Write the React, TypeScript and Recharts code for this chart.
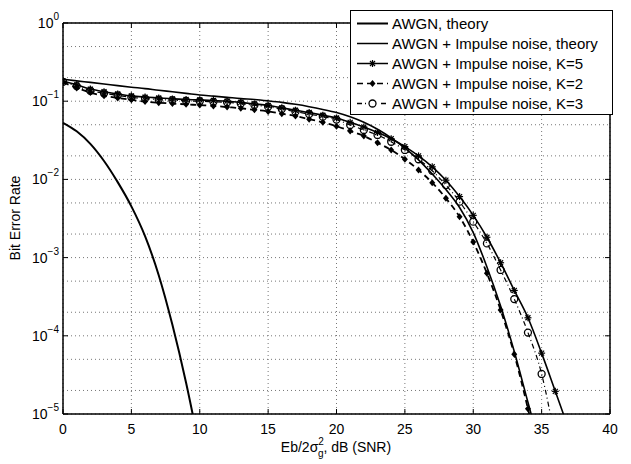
import { CartesianGrid, Line, LineChart, ReferenceLine, XAxis, YAxis } from "recharts";

const FONT = '"Liberation Sans", Arial, Helvetica, sans-serif';

const snrTicks = [0, 5, 10, 15, 20, 25, 30, 35, 40];
const berTicks = [1e-5, 1e-4, 1e-3, 1e-2, 1e-1, 1];

const snrAwgn = [0, 1, 2, 3, 4, 5, 6, 7, 8, 9, 10];
const berAwgn = [0.053, 0.0412, 0.0285, 0.0172, 0.00923, 0.00452, 0.00188, 5.96e-4, 1.38e-4, 2.51e-5, 3.55e-6];

const snrImpulse = [
  0, 1, 2, 3, 4, 5, 6, 7, 8, 9, 10, 11, 12, 13, 14, 15, 16, 17, 18, 19, 20, 21, 22, 23, 24, 25, 26, 27, 28,
  29, 30, 31, 32, 33, 34, 35, 36, 37,
];
const berTheory = [
  0.191, 0.182, 0.174, 0.166, 0.158, 0.151, 0.145, 0.138, 0.132, 0.126, 0.12, 0.116, 0.112, 0.108, 0.105,
  0.101, 0.0966, 0.0912, 0.0851, 0.0785, 0.0716, 0.0631, 0.0537, 0.0437, 0.0339, 0.0251, 0.0178, 0.0117,
  0.00741, 0.00437, 0.00209, 7.6e-4, 2.4e-4, 6.3e-5, 1.41e-5, 3.2e-6,
];
const berK5 = [
  0.18, 0.162, 0.143, 0.132, 0.124, 0.117, 0.113, 0.11, 0.107, 0.105, 0.104, 0.102, 0.1, 0.0966, 0.0923,
  0.0881, 0.0822, 0.0767, 0.0716, 0.0661, 0.061, 0.0537, 0.0468, 0.0398, 0.0331, 0.0263, 0.02, 0.0145,
  0.00977, 0.00603, 0.00347, 0.00182, 8.6e-4, 3.8e-4, 1.7e-4, 6.0e-5, 1.95e-5, 6.3e-6,
];
const berK2 = [
  0.174, 0.148, 0.129, 0.117, 0.11, 0.104, 0.0989, 0.0955, 0.0933, 0.0912, 0.0891, 0.0871, 0.0841, 0.0813,
  0.0776, 0.0741, 0.0692, 0.0646, 0.0589, 0.0537, 0.0479, 0.0416, 0.0359, 0.0294, 0.0238, 0.0181, 0.0132,
  0.00908, 0.00573, 0.00333, 0.00158, 6.3e-4, 2.14e-4, 5.8e-5, 1.17e-5, 2.0e-6,
];
const berK3 = [
  0.177, 0.156, 0.136, 0.126, 0.119, 0.112, 0.108, 0.105, 0.103, 0.101, 0.0998, 0.0982, 0.0966, 0.0933,
  0.0891, 0.0851, 0.0794, 0.0735, 0.0685, 0.0634, 0.0582, 0.0497, 0.0429, 0.037, 0.0303, 0.0238, 0.0181,
  0.0129, 0.00847, 0.00519, 0.00288, 0.00152, 6.95e-4, 2.95e-4, 1.1e-4, 3.25e-5, 4.6e-6,
];

const legendLabels = [
  "AWGN, theory",
  "AWGN + Impulse noise, theory",
  "AWGN + Impulse noise, K=5",
  "AWGN + Impulse noise, K=2",
  "AWGN + Impulse noise, K=3",
];

const toPoints = (xs: number[], ys: number[]) => ys.map((y, i) => ({ x: xs[i], y }));

// dotted minor grid, like matlab's "grid on; grid minor"
const gridY: number[] = [];
for (let d = -5; d < 0; d++) {
  for (let k = 1; k < 10; k++) gridY.push(k * Math.pow(10, d));
}
gridY.push(1);

function Star({ cx, cy }: { cx: number; cy: number }) {
  const r = 3.5;
  const q = 2.5;
  return (
    <g stroke="#000" strokeWidth={1.2}>
      <line x1={cx - r} y1={cy} x2={cx + r} y2={cy} />
      <line x1={cx} y1={cy - r} x2={cx} y2={cy + r} />
      <line x1={cx - q} y1={cy - q} x2={cx + q} y2={cy + q} />
      <line x1={cx - q} y1={cy + q} x2={cx + q} y2={cy - q} />
    </g>
  );
}

function Diamond({ cx, cy }: { cx: number; cy: number }) {
  return <path d={`M${cx},${cy - 3.5}L${cx + 3},${cy}L${cx},${cy + 3.5}L${cx - 3},${cy}Z`} fill="#000" />;
}

function Ring({ cx, cy }: { cx: number; cy: number }) {
  return <circle cx={cx} cy={cy} r={3.5} fill="none" stroke="#000" strokeWidth={1.3} />;
}

const dotFn = (Mark: any) => (p: any) =>
  p.cx == null || p.cy == null ? <g key={p.index} /> : <Mark key={p.index} cx={p.cx} cy={p.cy} />;

function YTick({ y, payload }: any) {
  const exp = Math.round(Math.log10(payload.value));
  const sup = exp < 0 ? `\u2212${-exp}` : `${exp}`;
  return (
    <g>
      <line x1={63} x2={68} y1={y} y2={y} stroke="#000" />
      <line x1={610} x2={605} y1={y} y2={y} stroke="#000" />
      <text x={59} y={y + 5} textAnchor="end" fontSize={14} fontFamily={FONT} fill="#000">
        10
        <tspan dy={-8} fontSize={10}>
          {sup}
        </tspan>
      </text>
    </g>
  );
}

function XTick({ x, payload }: any) {
  return (
    <g>
      <line x1={x} x2={x} y1={414} y2={409} stroke="#000" />
      <line x1={x} x2={x} y1={23} y2={28} stroke="#000" />
      <text x={x} y={434} textAnchor="middle" fontSize={14} fontFamily={FONT} fill="#000">
        {payload.value}
      </text>
    </g>
  );
}

function Legend() {
  const rows = [0, 1, 2, 3, 4];
  return (
    <svg
      width={264}
      height={106}
      style={{ position: "absolute", left: 350, top: 10, fontFamily: FONT }}
    >
      <rect x={0.5} y={0.5} width={262} height={104} fill="#fff" stroke="#000" strokeWidth={1} />
      {rows.map((i) => {
        const cy = 13.5 + i * 20;
        const dash = i === 3 ? "6 4" : i === 4 ? "5 3 1 3" : undefined;
        return (
          <g key={i}>
            <line
              x1={7}
              x2={38}
              y1={cy}
              y2={cy}
              stroke="#000"
              strokeWidth={i === 0 ? 2 : 1.5}
              strokeDasharray={dash}
            />
            {i === 2 && <Star cx={22.5} cy={cy} />}
            {i === 3 && <Diamond cx={22.5} cy={cy} />}
            {i === 4 && (
              <>
                <rect x={17} y={cy - 4.5} width={11} height={9} fill="#fff" />
                <Ring cx={22.5} cy={cy} />
              </>
            )}
            <text x={42} y={cy + 5} fontSize={15} fill="#000">
              {legendLabels[i]}
            </text>
          </g>
        );
      })}
    </svg>
  );
}

export default function App() {
  return (
    <div style={{ position: "absolute", left: 0, top: 0, width: 631, height: 464, background: "#fff" }}>
      <LineChart width={631} height={464} margin={{ top: 23, right: 21, left: 0, bottom: 0 }}>
        <CartesianGrid
          stroke="#777"
          strokeDasharray="1 3"
          horizontalValues={gridY}
          verticalValues={snrTicks}
        />
        <XAxis
          dataKey="x"
          type="number"
          domain={[0, 40]}
          ticks={snrTicks}
          allowDataOverflow
          height={50}
          tickLine={false}
          axisLine={{ stroke: "#000", strokeWidth: 1.5 }}
          tick={<XTick />}
        />
        <YAxis
          dataKey="y"
          scale="log"
          domain={[1e-5, 1]}
          ticks={berTicks}
          allowDataOverflow
          width={63}
          tickLine={false}
          axisLine={{ stroke: "#000", strokeWidth: 1.5 }}
          tick={<YTick />}
        />
        <ReferenceLine y={1} stroke="#000" strokeWidth={1.5} />
        <ReferenceLine x={40} stroke="#000" strokeWidth={1.5} />
        <Line
          data={toPoints(snrAwgn, berAwgn)}
          dataKey="y"
          type="monotone"
          stroke="#000"
          strokeWidth={2}
          dot={false}
          isAnimationActive={false}
        />
        <Line
          data={toPoints(snrImpulse, berTheory)}
          dataKey="y"
          type="monotone"
          stroke="#000"
          strokeWidth={1.6}
          dot={false}
          isAnimationActive={false}
        />
        <Line
          data={toPoints(snrImpulse, berK5)}
          dataKey="y"
          type="monotone"
          stroke="#000"
          strokeWidth={1.6}
          dot={dotFn(Star)}
          isAnimationActive={false}
        />
        <Line
          data={toPoints(snrImpulse, berK2)}
          dataKey="y"
          type="monotone"
          stroke="#000"
          strokeWidth={1.8}
          strokeDasharray="6 4"
          dot={dotFn(Diamond)}
          isAnimationActive={false}
        />
        <Line
          data={toPoints(snrImpulse, berK3)}
          dataKey="y"
          type="monotone"
          stroke="#000"
          strokeWidth={1.2}
          strokeDasharray="5 3 1 3"
          dot={dotFn(Ring)}
          isAnimationActive={false}
        />
        <text
          x={16}
          y={218}
          transform="rotate(-90 16 218)"
          textAnchor="middle"
          dominantBaseline="middle"
          fontSize={14}
          fontFamily={FONT}
          fill="#000"
        >
          Bit Error Rate
        </text>
        <text x={336} y={452} textAnchor="middle" fontSize={14} fontFamily={FONT} fill="#000">
          Eb/2σ
          <tspan dy={-7} fontSize={10}>
            2
          </tspan>
          <tspan dx={-6} dy={12} fontSize={10}>
            g
          </tspan>
          <tspan dy={-5}>, dB (SNR)</tspan>
        </text>
      </LineChart>
      <Legend />
    </div>
  );
}
